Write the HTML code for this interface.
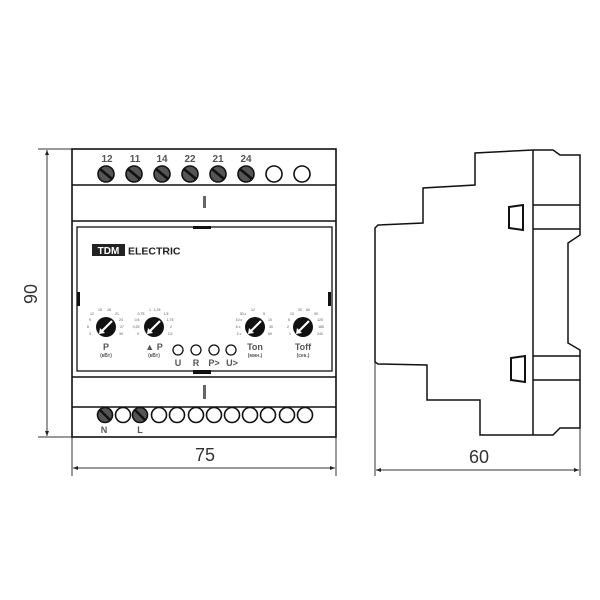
<!DOCTYPE html>
<html><head><meta charset="utf-8"><style>html,body{margin:0;padding:0;background:#fff}svg{display:block}</style></head>
<body>
<svg width="600" height="600" viewBox="0 0 600 600" xmlns="http://www.w3.org/2000/svg" font-family="Liberation Sans, sans-serif">
<defs>
<marker id="ar" viewBox="0 0 10 10" refX="10" refY="5" markerWidth="7" markerHeight="5" orient="auto-start-reverse"><path d="M0,1 L10,5 L0,9 z" fill="#222"/></marker>
<g id="tk"><circle r="8" fill="#555" stroke="#111" stroke-width="1.6"/><line x1="-6" y1="-5" x2="6" y2="5" stroke="#111" stroke-width="2.6"/></g>
<g id="to"><circle r="8" fill="#fff" stroke="#111" stroke-width="1.6"/></g>
<g id="bk"><circle r="7.5" fill="#555" stroke="#111" stroke-width="1.6"/><line x1="-5" y1="-5" x2="5" y2="5" stroke="#111" stroke-width="2.4"/></g>
<g id="bo"><circle r="7.5" fill="#fff" stroke="#111" stroke-width="1.6"/></g>
<g id="kn"><circle r="10" fill="#111"/><line x1="6" y1="-6" x2="-5" y2="5" stroke="#fff" stroke-width="2.2"/><path d="M-7,7 L-6,1 L-1,6 z" fill="#fff"/></g>
</defs>
<!-- 90 dimension -->
<g stroke="#333" stroke-width="1" fill="none">
<line x1="38" y1="149" x2="72" y2="149"/><line x1="38" y1="437" x2="72" y2="437"/>
<line x1="47" y1="150" x2="47" y2="436" marker-start="url(#ar)" marker-end="url(#ar)"/>
<line x1="72" y1="437" x2="72" y2="476"/><line x1="336" y1="437" x2="336" y2="476"/>
<line x1="73" y1="468" x2="335" y2="468" marker-start="url(#ar)" marker-end="url(#ar)"/>
<line x1="375" y1="362" x2="375" y2="476"/><line x1="580" y1="428" x2="580" y2="476"/>
<line x1="376" y1="470" x2="579" y2="470" marker-start="url(#ar)" marker-end="url(#ar)"/>
</g>
<text x="0" y="0" transform="translate(37,294) rotate(-90)" font-size="18" text-anchor="middle" fill="#333">90</text>
<text x="205" y="461" font-size="18" text-anchor="middle" fill="#333">75</text>
<text x="479" y="463" font-size="18" text-anchor="middle" fill="#333">60</text>
<!-- front body -->
<g stroke="#111" stroke-width="1.6" fill="none">
<rect x="72" y="149" width="264" height="288"/>
<line x1="72" y1="185" x2="336" y2="185"/><line x1="72" y1="221" x2="336" y2="221"/>
<line x1="72" y1="377" x2="336" y2="377"/><line x1="72" y1="407" x2="336" y2="407"/>
<rect x="77" y="227" width="255" height="144" stroke-width="1.3"/>
</g>
<rect x="193" y="226" width="18" height="3" fill="#111"/>
<rect x="193" y="370" width="18" height="4" fill="#111"/>
<rect x="77" y="292" width="3" height="14" fill="#111"/>
<rect x="328" y="292" width="3" height="14" fill="#111"/>
<rect x="203" y="196" width="3" height="12" fill="#666"/>
<rect x="203" y="385" width="3" height="14" fill="#666"/>
<g font-size="10" font-weight="bold" fill="#555" text-anchor="middle">
<text x="107" y="162">12</text><text x="135" y="162">11</text><text x="162" y="162">14</text><text x="190" y="162">22</text><text x="218" y="162">21</text><text x="246" y="162">24</text>
</g>
<use href="#tk" x="106" y="174"/><use href="#tk" x="134" y="174"/><use href="#tk" x="162" y="174"/><use href="#tk" x="190" y="174"/><use href="#tk" x="218" y="174"/><use href="#tk" x="246" y="174"/>
<use href="#to" x="274" y="174"/><use href="#to" x="302" y="174"/>
<rect x="92" y="244" width="33" height="12" fill="#222"/>
<text x="108.5" y="254" font-size="10" font-weight="bold" fill="#fff" text-anchor="middle">TDM</text>
<text x="128" y="254.5" font-size="10.5" font-weight="bold" fill="#222">ELECTRIC</text>
<!-- knobs -->
<use href="#kn" x="106" y="327"/><use href="#kn" x="154" y="327"/><use href="#kn" x="255" y="327"/><use href="#kn" x="303" y="327"/>
<g font-size="3.5" fill="#555" text-anchor="middle">
<text x="92" y="315">12</text><text x="100" y="311">15</text><text x="109" y="311">18</text><text x="117" y="315">21</text><text x="121" y="321">24</text><text x="122" y="328">27</text><text x="121" y="335">30</text><text x="90" y="321">9</text><text x="88" y="328">6</text><text x="90" y="335">3</text>
<text x="141" y="315">0,75</text><text x="150" y="311">1</text><text x="157" y="311">1,25</text><text x="166" y="315">1,5</text><text x="170" y="321">1,75</text><text x="171" y="328">2</text><text x="170" y="335">2,5</text><text x="137" y="321">0,5</text><text x="136" y="328">0,25</text><text x="138" y="335">0</text>
<text x="243" y="315">30 c</text><text x="253" y="311">12</text><text x="264" y="315">5</text><text x="270" y="321">10</text><text x="271" y="328">30</text><text x="270" y="335">60</text><text x="239" y="321">10 c</text><text x="238" y="328">5 c</text><text x="239" y="335">2 c</text>
<text x="292" y="315">10</text><text x="300" y="311">30</text><text x="308" y="311">60</text><text x="316" y="315">90</text><text x="320" y="321">120</text><text x="321" y="328">180</text><text x="320" y="335">240</text><text x="289" y="321">5</text><text x="288" y="328">2</text><text x="290" y="335">1</text>
</g>
<g fill="#555" text-anchor="middle" font-weight="bold">
<text x="106" y="350" font-size="9">P</text><text x="106" y="357" font-size="5">(кВт)</text>
<text x="154" y="350" font-size="9">▲ P</text><text x="154" y="357" font-size="5">(кВт)</text>
<text x="255" y="350" font-size="9">Ton</text><text x="255" y="357" font-size="5">(мин.)</text>
<text x="303" y="350" font-size="9">Toff</text><text x="303" y="357" font-size="5">(сек.)</text>
<text x="178" y="366" font-size="9">U</text><text x="196" y="366" font-size="9">R</text><text x="214" y="366" font-size="9">P&gt;</text><text x="232" y="366" font-size="9">U&gt;</text>
</g>
<g fill="#fff" stroke="#111" stroke-width="1.3"><circle cx="178" cy="350" r="5"/><circle cx="196" cy="350" r="5"/><circle cx="214" cy="350" r="5"/><circle cx="231" cy="350" r="5"/></g>
<!-- bottom terminals -->
<use href="#bk" x="105" y="415"/><use href="#bo" x="123" y="415"/><use href="#bk" x="140" y="415"/>
<use href="#bo" x="159" y="415"/><use href="#bo" x="177" y="415"/><use href="#bo" x="196" y="415"/><use href="#bo" x="214" y="415"/><use href="#bo" x="232" y="415"/><use href="#bo" x="250" y="415"/><use href="#bo" x="268" y="415"/><use href="#bo" x="287" y="415"/><use href="#bo" x="305" y="415"/>
<text x="104" y="433" font-size="9" font-weight="bold" fill="#555" text-anchor="middle">N</text>
<text x="140" y="433" font-size="9" font-weight="bold" fill="#555" text-anchor="middle">L</text>
<!-- side view -->
<g stroke="#111" stroke-width="1.5" fill="none" stroke-linejoin="miter">
<path d="M533,150 L475,153 L475,185 L423,188 L423,223 L378,225 L375,228 L375,362 L378,364 L427,365 L427,400 L480,400 L480,435 L553,435 L560,428 L580,428 L580,350 L568,343 L568,243 L580,235 L580,155 L560,155 L553,150 Z"/>
<line x1="533" y1="150" x2="533" y2="435"/>
<line x1="533" y1="205" x2="580" y2="205"/><line x1="533" y1="229" x2="580" y2="229"/>
<line x1="533" y1="356" x2="580" y2="356"/><line x1="533" y1="380" x2="580" y2="380"/>
<path d="M509,207 L523,205 L523,230 L509,228 Z" stroke-width="2"/>
<path d="M511,358 L525,356 L525,382 L511,380 Z" stroke-width="2"/>
</g>
</svg>
</body></html>
